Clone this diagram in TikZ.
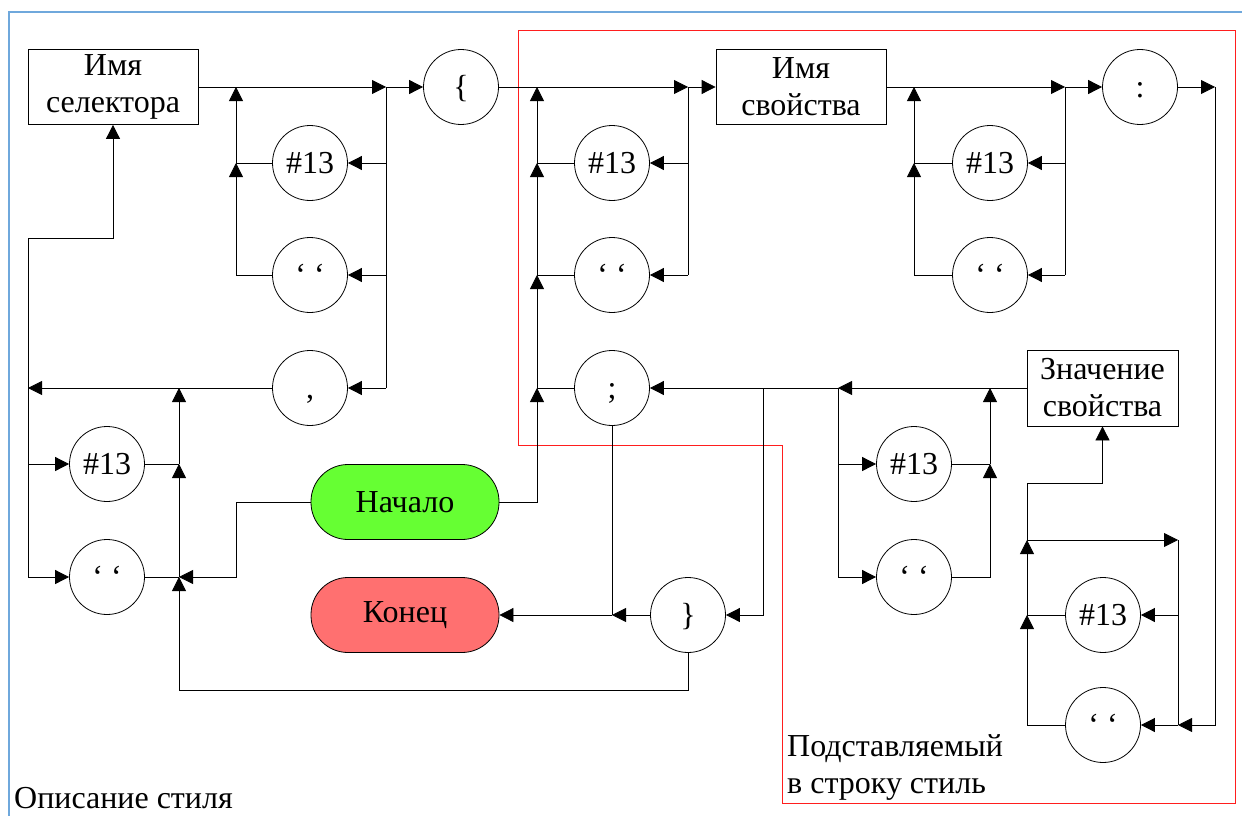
\documentclass[tikz,border=0pt]{standalone}
\usepackage{fontspec}
\setmainfont{Liberation Serif}
\usetikzlibrary{arrows.meta}
\definecolor{framblue}{RGB}{111,168,220}
\definecolor{startgreen}{RGB}{102,255,51}
\definecolor{endred}{RGB}{255,112,112}
\definecolor{boxred}{RGB}{255,30,30}
\begin{document}
\begin{tikzpicture}[x=1pt,y=-1pt,
 every node/.style={font=\fontsize{32}{37}\selectfont},
 tok/.style={circle,draw,line width=0.8pt,minimum size=75pt,inner sep=0pt,text height=21.5pt,text depth=0pt},
 rbox/.style={rectangle,draw,line width=0.8pt,align=center,inner sep=0pt},
 term/.style={rectangle,rounded corners=37pt,draw,line width=0.8pt,minimum width=188pt,minimum height=75pt},
 conn/.style={line width=0.8pt},
 arr/.style={conn,-{Triangle[length=14pt,width=14pt]}},
]
\useasboundingbox (0,0) rectangle (1242,816);
% frames
\draw[framblue,line width=1.2pt] (9,816) -- (9,12) -- (1242,12);
\draw[boxred,line width=0.9pt] (518,30) -- (1235,30) -- (1235,803) -- (782,803) -- (782,445) -- (518,445) -- cycle;

% nodes
\node[rbox,minimum width=170pt,minimum height=75pt] (sel) at (113,87) {Имя\\селектора};
\node[tok] (h1) at (310,163) {\#13};
\node[tok] (q1) at (310,275) {‘ ‘};
\node[tok] (comma) at (310,388) {,};
\node[tok] (lb) at (461,87) {\{};
\node[tok] (h2) at (612,163) {\#13};
\node[tok] (q2) at (612,275) {‘ ‘};
\node[tok] (semi) at (612,388) {;};
\node[rbox,minimum width=170pt,minimum height=75pt] (prop) at (801,87) {Имя\\свойства};
\node[tok] (h3) at (990,163) {\#13};
\node[tok] (q3) at (990,275) {‘ ‘};
\node[tok] (colon) at (1140,87) {:};
\node[rbox,minimum width=151pt,minimum height=76pt] (val) at (1102.5,388) {Значение\\свойства};
\node[tok] (h4) at (914,464) {\#13};
\node[tok] (q4) at (914,577) {‘ ‘};
\node[tok] (h5) at (1103,615) {\#13};
\node[tok] (q5) at (1103,725) {‘ ‘};
\node[tok] (h6) at (107,464) {\#13};
\node[tok] (q6) at (107,577) {‘ ‘};
\node[term,fill=startgreen] (start) at (405,502) {Начало};
\node[term,fill=endred] (fin) at (405,615) {Конец};
\node[tok] (rb) at (688,615) {\}};

\node[anchor=base west,inner sep=0pt] (desc) at (14,808) {Описание стиля};
\node[anchor=north west,align=left,inner sep=0pt] (sub) at (787,734) {Подставляемый\\в строку стиль};

% coordinates
\coordinate (s1) at (236,87);
\coordinate (s2) at (386,87);
\coordinate (s3) at (236,163);
\coordinate (s4) at (386,163);
\coordinate (s5) at (236,275);
\coordinate (s6) at (386,275);
\coordinate (s7) at (386,388);
\coordinate (l1) at (28,388);
\coordinate (l2) at (28,238);
\coordinate (l3) at (113,238);
\coordinate (l4) at (28,464);
\coordinate (l5) at (28,577);
\coordinate (c1) at (179,388);
\coordinate (c2) at (179,464);
\coordinate (c3) at (179,577);
\coordinate (c4) at (236,502);
\coordinate (c5) at (236,577);
\coordinate (c6) at (179,690);
\coordinate (c7) at (688,690);
\coordinate (m1) at (537,87);
\coordinate (m2) at (537,163);
\coordinate (m3) at (537,275);
\coordinate (m4) at (537,388);
\coordinate (m5) at (537,502);
\coordinate (n1) at (688,87);
\coordinate (n2) at (688,163);
\coordinate (n3) at (688,275);
\coordinate (e1) at (612,615);
\coordinate (v1) at (838,388);
\coordinate (v2) at (763,388);
\coordinate (v4) at (990,388);
\coordinate (v5) at (838,464);
\coordinate (v6) at (838,577);
\coordinate (v7) at (990,464);
\coordinate (v8) at (990,577);
\coordinate (r1) at (1027,483);
\coordinate (r3) at (1027,540);
\coordinate (r4) at (1178,540);
\coordinate (r5) at (1027,615);
\coordinate (r6) at (1027,725);
\coordinate (r7) at (1178,615);
\coordinate (r8) at (1178,725);
\coordinate (r9) at (1215,87);
\coordinate (r10) at (1215,725);
\coordinate (p1) at (1065,87);
\coordinate (p2) at (1065,163);
\coordinate (p3) at (1065,275);
\coordinate (p4) at (914,87);
\coordinate (p5) at (914,163);
\coordinate (p6) at (914,275);

% selector part
\draw[arr] (sel.east) -- (s2);
\draw[arr] (s2) -- (lb.west);
\draw[conn] (s2) -- (s7);
\draw[arr] (s4) -- (h1.east);
\draw[arr] (s6) -- (q1.east);
\draw[arr] (s7) -- (comma.east);
\draw[arr] (h1.west) -- (s3) -- (s1);
\draw[arr] (q1.west) -- (s5) -- (s3);
\draw[arr] (comma.west) -- (l1);
\draw[arr] (l5) -- (l2) -- (l3) -- (sel.south);
\draw[arr] (l4) -- (h6.west);
\draw[arr] (l5) -- (q6.west);
\draw[conn] (h6.east) -- (c2);
\draw[conn] (q6.east) -- (c3);
\draw[arr] (c3) -- (c2);
\draw[arr] (c2) -- (c1);
\draw[arr] (start.west) -- (c4) -- (c5) -- (c3);
\draw[arr] (rb.south) -- (c7) -- (c6) -- (c3);

% middle part
\draw[arr] (lb.east) -- (n1);
\draw[arr] (n1) -- (prop.west);
\draw[conn] (n1) -- (n3);
\draw[arr] (n2) -- (h2.east);
\draw[arr] (n3) -- (q2.east);
\draw[arr] (start.east) -- (m5) -- (m4);
\draw[conn] (semi.west) -- (m4);
\draw[arr] (m4) -- (m3);
\draw[conn] (q2.west) -- (m3);
\draw[arr] (m3) -- (m2);
\draw[conn] (h2.west) -- (m2);
\draw[arr] (m2) -- (m1);

% end part
\draw[conn] (semi.south) -- (e1);
\draw[arr] (rb.west) -- (e1);
\draw[arr] (e1) -- (fin.east);
\draw[arr] (val.west) -- (v1);
\draw[arr] (v1) -- (semi.east);
\draw[arr] (v2) |- (rb.east);
\draw[conn] (v1) -- (v6);
\draw[arr] (v5) -- (h4.west);
\draw[arr] (v6) -- (q4.west);
\draw[conn] (h4.east) -- (v7);
\draw[arr] (q4.east) -- (v8) -- (v7);
\draw[arr] (v7) -- (v4);

% value part
\draw[arr] (r3) -- (r1) -| (val.south);
\draw[arr] (r3) -- (r4);
\draw[conn] (r4) -- (r8);
\draw[arr] (r7) -- (h5.east);
\draw[arr] (r8) -- (q5.east);
\draw[conn] (h5.west) -- (r5);
\draw[arr] (q5.west) -- (r6) -- (r5);
\draw[arr] (r5) -- (r3);
\draw[arr] (colon.east) -- (r9);
\draw[arr] (r9) -- (r10) -- (r8);

% property part
\draw[arr] (prop.east) -- (p1);
\draw[arr] (p1) -- (colon.west);
\draw[conn] (p1) -- (p3);
\draw[arr] (p2) -- (h3.east);
\draw[arr] (p3) -- (q3.east);
\draw[conn] (h3.west) -- (p5);
\draw[arr] (q3.west) -- (p6) -- (p5);
\draw[arr] (p5) -- (p4);
\end{tikzpicture}
\end{document}
